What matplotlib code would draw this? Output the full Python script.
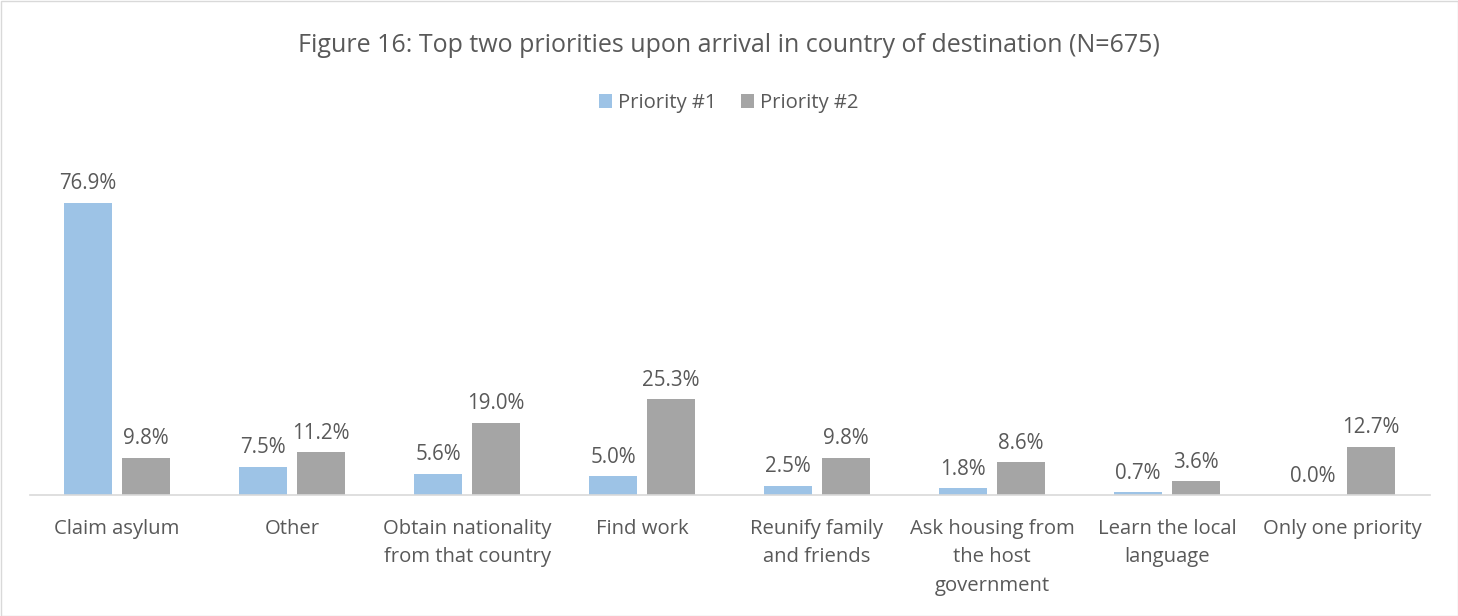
import matplotlib
matplotlib.use("Agg")
import matplotlib.pyplot as plt
import numpy as np
from matplotlib.patches import Rectangle

categories = ["Claim asylum", "Other", "Obtain nationality\nfrom that country", "Find work",
              "Reunify family\nand friends", "Ask housing from\nthe host\ngovernment",
              "Learn the local\nlanguage", "Only one priority"]
priority1 = [76.9, 7.5, 5.6, 5.0, 2.5, 1.8, 0.7, 0.0]
priority2 = [9.8, 11.2, 19.0, 25.3, 9.8, 8.6, 3.6, 12.7]
series_names = ["Priority #1", "Priority #2"]
title = "Figure 16: Top two priorities upon arrival in country of destination (N=675)"

plt.rcParams['font.family'] = ['Open Sans', 'DejaVu Sans']
txt = "#595959"
c1, c2 = "#9DC3E6", "#A5A5A5"

W, H = 1458, 616
fig = plt.figure(figsize=(W/100, H/100), dpi=100)
ax = fig.add_axes([29.5/W, 1-495/H, 1400/W, (495-153)/H])

x = np.arange(len(categories))
bw = 0.27
off = 0.166
b1 = ax.bar(x - off, priority1, bw, color=c1, label=series_names[0])
b2 = ax.bar(x + off, priority2, bw, color=c2, label=series_names[1])
for bars, vals in ((b1, priority1), (b2, priority2)):
    for r, v in zip(bars, vals):
        ax.annotate(f"{v:.1f}%", (r.get_x() + r.get_width()/2, v), xytext=(0, 6),
                    textcoords="offset points", ha="center", va="bottom",
                    fontsize=14.8, color=txt)

ax.set_xlim(-0.5, len(categories) - 0.5)
ax.set_ylim(0, 90)
ax.set_yticks([])
ax.set_xticks(x)
ax.set_xticklabels(categories, fontsize=14.6, color=txt, linespacing=1.58)
ax.tick_params(axis='x', length=0, pad=17)
for s in ["top", "right", "left"]:
    ax.spines[s].set_visible(False)
ax.spines["bottom"].set_color("#D9D9D9")
ax.spines["bottom"].set_linewidth(1.2)

fig.text(0.5, 1 - 45/H, title, ha="center", va="center", fontsize=18, color=txt)
fig.legend(loc="center", bbox_to_anchor=(0.5, 1 - 103/H), ncol=2, frameon=False,
           fontsize=14.6, labelcolor=txt, handlelength=0.65, handleheight=0.65,
           handletextpad=0.3, columnspacing=1.2)

fig.patches.append(Rectangle((0.5/W, 0.5/H), 1 - 1/W, 1 - 1/H, transform=fig.transFigure,
                             fill=False, edgecolor="#D9D9D9", linewidth=1))
fig.savefig("out.png", dpi=100, facecolor="white")
